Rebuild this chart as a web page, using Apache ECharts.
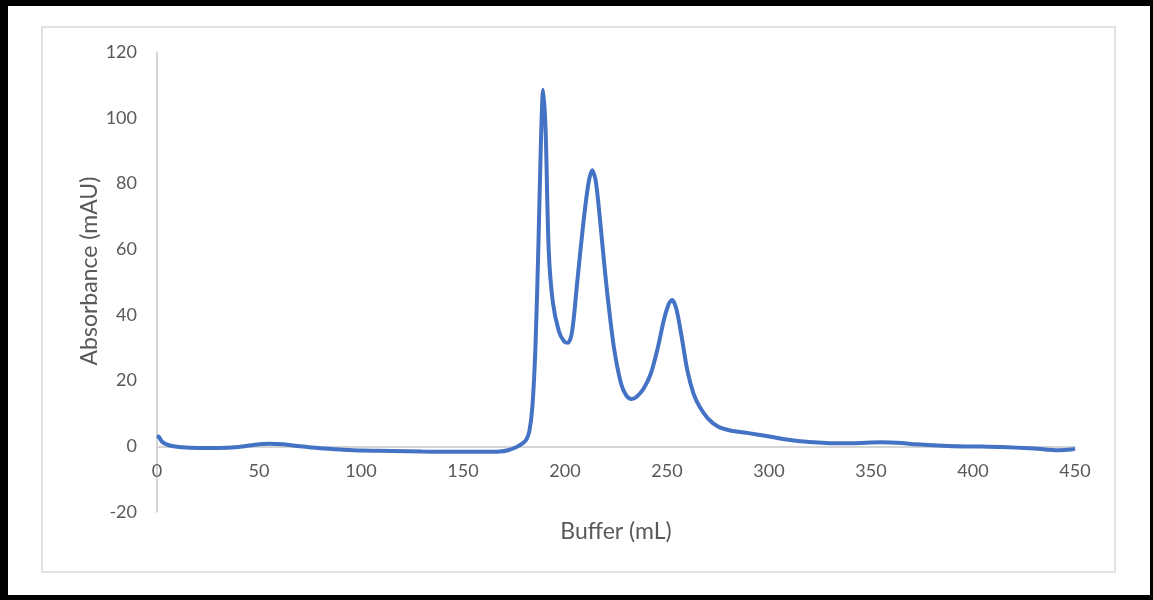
<!DOCTYPE html>
<html>
<head>
<meta charset="utf-8">
<script src="https://cdn.jsdelivr.net/npm/echarts@6/dist/echarts.min.js"></script>
<style>
  html, body { margin: 0; padding: 0; background: #fff; }
  #chart { width: 1153px; height: 600px; }
</style>
</head>
<body>
<div id="chart"></div>
<script>
// buffer volume (mL) and absorbance (mAU)
const bufferMl = [0, 1, 2.5, 5, 8, 12, 20, 30, 40, 48, 55, 62, 70, 80, 90, 100, 115, 130, 145, 160, 168, 172, 176, 179, 181, 182.5, 184, 185.5, 187, 188.3, 189.3, 190.5, 192, 194, 197, 199.5, 201.5, 203.5, 206, 209, 211.5, 213.3, 215, 217, 219, 221, 224, 227.5, 230, 232.5, 235, 238.5, 242, 245.5, 248.5, 251, 252.5, 254.5, 257, 260, 263, 266, 270, 275, 281, 290, 298, 306, 314, 322, 331, 340, 355, 365, 372, 388, 404, 414, 430, 442, 448, 450];
const absorbance = [3.2, 2.8, 1.4, 0.5, 0, -0.3, -0.5, -0.5, -0.2, 0.5, 0.8, 0.6, 0, -0.6, -1.0, -1.3, -1.4, -1.6, -1.7, -1.7, -1.6, -1.2, -0.3, 0.8, 2, 4.5, 12, 30, 62, 95, 108.5, 96, 60, 44, 35, 32, 31.5, 35, 50, 68, 80, 84, 81, 70, 57, 45, 30, 19, 15.5, 14.4, 15, 17.5, 22, 30, 38.5, 43.5, 44.5, 42, 34, 23, 16, 12, 8.5, 6, 4.8, 4, 3.2, 2.3, 1.6, 1.2, 0.9, 0.9, 1.2, 1.0, 0.6, 0.1, -0.1, -0.2, -0.7, -1.2, -1.0, -0.7];

const font = 'Lato, "Open Sans", sans-serif';
const textColor = '#595959';
const axisColor = '#c8c8c8';

const myChart = echarts.init(document.getElementById('chart'));
myChart.setOption({
  animation: false,
  backgroundColor: '#fff',
  textStyle: {fontFamily: font},
  grid: {left: 157, right: 78, top: 52, bottom: 88, containLabel: false, outerBoundsMode: 'none'},
  xAxis: {
    type: 'value',
    min: 0,
    max: 450,
    interval: 50,
    // keep the x axis (line + labels) at y = 0, as in the source chart
    offset: -65.7,
    name: 'Buffer (mL)',
    nameLocation: 'middle',
    nameGap: 74,
    nameTextStyle: {color: textColor, fontSize: 23, fontFamily: font},
    axisLine: {onZero: false, lineStyle: {color: axisColor, width: 1.5}},
    axisTick: {show: false},
    splitLine: {show: false},
    axisLabel: {color: textColor, fontSize: 18, margin: 16, fontFamily: font}
  },
  yAxis: {
    type: 'value',
    min: -20,
    max: 120,
    interval: 20,
    axisLine: {show: true, lineStyle: {color: axisColor, width: 1.5}},
    axisTick: {show: false},
    splitLine: {show: false},
    axisLabel: {color: textColor, fontSize: 18, margin: 20, fontFamily: font}
  },
  graphic: [
    // outer black frame
    {type: 'rect', shape: {x: 0, y: 0, width: 1153, height: 6}, style: {fill: '#000'}},
    {type: 'rect', shape: {x: 0, y: 0, width: 8, height: 600}, style: {fill: '#000'}},
    {type: 'rect', shape: {x: 1150, y: 0, width: 3, height: 600}, style: {fill: '#000'}},
    {type: 'rect', shape: {x: 0, y: 595, width: 1153, height: 5}, style: {fill: '#000'}},
    // chart area border
    {type: 'rect', shape: {x: 42, y: 27, width: 1073, height: 545}, style: {fill: 'none', stroke: '#d9d9d9', lineWidth: 1.5}},
    // y axis title
    {
      type: 'text',
      x: 90,
      y: 271,
      rotation: Math.PI / 2,
      style: {text: 'Absorbance (mAU)', fill: textColor, font: '23px ' + font, align: 'center', verticalAlign: 'middle'}
    }
  ],
  series: [{
    type: 'line',
    data: bufferMl.map((x, i) => [x, absorbance[i]]),
    smooth: 0.3,
    showSymbol: false,
    lineStyle: {color: '#4472c4', width: 4},
    itemStyle: {color: '#4472c4'}
  }]
});
</script>
</body>
</html>
